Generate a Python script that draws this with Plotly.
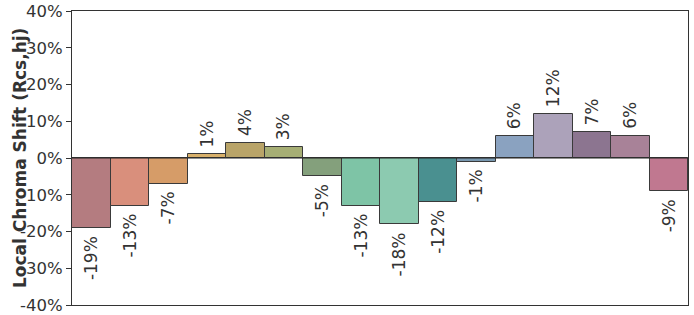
import plotly.graph_objects as go

categories = list(range(16))
values = [-19, -13, -7, 1, 4, 3, -5, -13, -18, -12, -1, 6, 12, 7, 6, -9]
labels = [f"{v}%" for v in values]
colors = ["#b47c80", "#d98f7c", "#d69c68", "#d8b06a", "#b9a468", "#a6ae74",
          "#84a07c", "#7ec4a6", "#8ccab0", "#4a9090", "#7898b0", "#8aa2c0",
          "#aca2ba", "#8c7590", "#a88298", "#c07890"]
y_ticks = [-40, -30, -20, -10, 0, 10, 20, 30, 40]
y_tick_text = [f"{t}%" for t in y_ticks]

fig = go.Figure(go.Bar(
    x=categories, y=values,
    marker=dict(color=colors, line=dict(color="#3a3a3a", width=1)),
    hoverinfo="skip",
))

fig.add_hline(y=0, line=dict(color="#222222", width=1.2))

label_annotations = [
    dict(x=c, y=v, xref="x", yref="y", text=t, showarrow=False,
         textangle=-90, xanchor="center",
         yanchor="bottom" if v >= 0 else "top",
         yshift=5 if v >= 0 else -6,
         font=dict(size=17, color="#333333", family="DejaVu Sans"))
    for c, v, t in zip(categories, values, labels)
]

fig.update_layout(
    width=694, height=315,
    margin=dict(l=72, r=6, t=11, b=10),
    plot_bgcolor="white", paper_bgcolor="white",
    bargap=0, showlegend=False,
    font=dict(family="DejaVu Sans", color="#333333"),
    xaxis=dict(range=[-0.5, 15.5], showticklabels=False, ticks="",
               showgrid=False, zeroline=False, showline=True, mirror=True,
               linecolor="#333333", linewidth=1, automargin=False),
    yaxis=dict(range=[-40, 40], tickvals=y_ticks, ticktext=y_tick_text,
               ticks="outside", ticklen=5, tickcolor="#333333",
               tickfont=dict(size=16.5, color="#333333"),
               showgrid=False, zeroline=False, showline=True, mirror=True,
               linecolor="#333333", linewidth=1, automargin=False),
    annotations=label_annotations + [
        dict(text="<b>Local Chroma Shift (Rcs,hj)</b>",
             xref="paper", yref="paper", x=-0.0844, y=0.5,
             xanchor="center", yanchor="middle", textangle=-90,
             showarrow=False,
             font=dict(size=17, color="#333333", family="DejaVu Sans"))],
)

fig.write_html("out.html", config={"displayModeBar": False},
               post_script="document.body.style.margin='0';document.body.style.overflow='hidden';")
